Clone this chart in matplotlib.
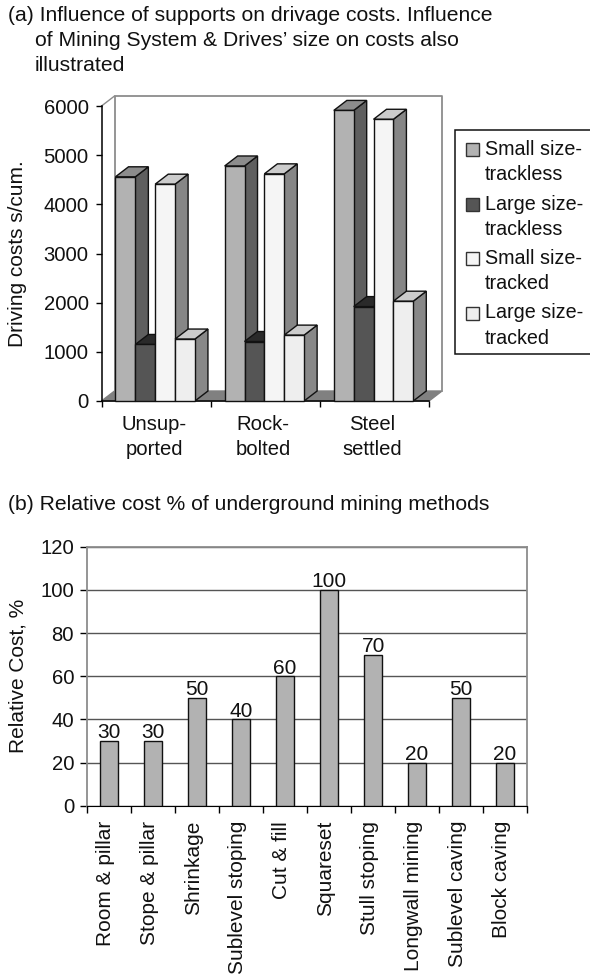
import matplotlib
matplotlib.use("Agg")
import matplotlib.pyplot as plt
from matplotlib.patches import Polygon, Rectangle
from matplotlib.transforms import ScaledTranslation

plt.rcParams['font.family'] = ['Liberation Sans', 'DejaVu Sans']

W, H = 590, 975

title_a = ["(a) Influence of supports on drivage costs. Influence",
           "of Mining System & Drives\u2019 size on costs also",
           "illustrated"]
title_b = "(b) Relative cost % of underground mining methods"

supports = ["Unsup-\nported", "Rock-\nbolted", "Steel\nsettled"]
series_names = ["Small size-\ntrackless", "Large size-\ntrackless",
                "Small size-\ntracked", "Large size-\ntracked"]
small_trackless = [4560, 4780, 5910]
large_trackless = [1150, 1210, 1920]
small_tracked = [4410, 4620, 5730]
large_tracked = [1260, 1340, 2030]
yticks_a = [0, 1000, 2000, 3000, 4000, 5000, 6000]

methods = ["Room & pillar", "Stope & pillar", "Shrinkage", "Sublevel stoping",
           "Cut & fill", "Squareset", "Stull stoping", "Longwall mining",
           "Sublevel caving", "Block caving"]
relative_cost = [30, 30, 50, 40, 60, 100, 70, 20, 50, 20]
yticks_b = [0, 20, 40, 60, 80, 100, 120]

# front, top, side
face_colors = [("#b2b2b2", "#8c8c8c", "#5f5f5f"),
               ("#555555", "#2a2a2a", "#444444"),
               ("#f5f5f5", "#cccccc", "#868686"),
               ("#eeeeee", "#cccccc", "#888888")]
title_size = 15.2
tick_size = 14.6
label_size = 15
legend_size = 14.2
text_color = "#111111"


def px_axes(fig, x0, y0, x1, y1):
    # pixel box, y measured from the top of the picture
    return fig.add_axes([x0 / W, 1 - y1 / H, (x1 - x0) / W, (y1 - y0) / H])


def fig_text(fig, x, y, s, size):
    fig.text(x / W, 1 - y / H, s, fontsize=size, va="baseline", color=text_color)


def bar_3d(ax, x, w, h, dx, dy, colors):
    front, top, side = colors
    ec = "#111111"
    ax.add_patch(Polygon([(x + w, 0), (x + w + dx, dy), (x + w + dx, h + dy), (x + w, h)],
                         fc=side, ec=ec, lw=1, clip_on=False, zorder=3))
    ax.add_patch(Polygon([(x, h), (x + dx, h + dy), (x + w + dx, h + dy), (x + w, h)],
                         fc=top, ec=ec, lw=1, clip_on=False, zorder=3))
    ax.add_patch(Rectangle((x, 0), w, h, fc=front, ec=ec, lw=1, clip_on=False, zorder=3))


def plot_supports(fig):
    ax = px_axes(fig, 101.5, 106, 429, 401)
    ax.set_xlim(0, 3)
    ax.set_ylim(0, 6000)
    ax.patch.set_visible(False)

    # depth of the 3d box, in data units
    dx = 13 / 109
    dy = 10 / 295 * 6000
    grey = "#8c8c8c"
    ax.add_patch(Polygon([(0, 0), (dx, dy), (3 + dx, dy), (3, 0)],
                         fc="#808080", ec="#808080", clip_on=False, zorder=1))
    ax.plot([dx, dx, 3 + dx, 3 + dx], [dy, 6000 + dy, 6000 + dy, dy],
            color=grey, lw=1.3, clip_on=False, zorder=1)
    ax.plot([0, dx], [6000, 6000 + dy], color=grey, lw=1, clip_on=False, zorder=1)

    bar_w = 59.5 / 327
    all_series = [small_trackless, large_trackless, small_tracked, large_tracked]
    for g in range(len(supports)):
        for s, values in enumerate(all_series):
            bar_3d(ax, g + 0.128 + s * bar_w, bar_w, values[g], dx, dy, face_colors[s])

    for name in ["top", "right"]:
        ax.spines[name].set_visible(False)
    ax.spines["left"].set_linewidth(1.1)
    ax.spines["bottom"].set_linewidth(1.1)
    ax.set_xticks([0, 1, 2, 3])
    ax.set_xticklabels([])
    ax.set_xticks([0.5, 1.5, 2.5], supports, minor=True)
    ax.set_yticks(yticks_a)
    ax.tick_params(axis="both", which="major", labelsize=tick_size, length=4.3, width=1,
                   pad=5, labelcolor=text_color)
    ax.tick_params(axis="x", which="minor", labelsize=tick_size, length=0, pad=10.3,
                   labelcolor=text_color)
    shift = ScaledTranslation(-2 / 100, 0, fig.dpi_scale_trans)
    for label in ax.get_xticklabels(minor=True):
        label.set_transform(label.get_transform() + shift)
        label.set_linespacing(1.4)
    ax.set_ylabel("Driving costs s/cum.", fontsize=label_size, labelpad=12, color=text_color)


def plot_legend(fig):
    fig.add_artist(Rectangle((455 / W, 1 - 354 / H), 140 / W, 224 / H, fc="white", ec="#111111",
                             lw=1.1, transform=fig.transFigure))
    for i, name in enumerate(series_names):
        first, second = name.split("\n")
        y = 155 + i * 54.5
        fig.add_artist(Rectangle((465.5 / W, 1 - (y + 1) / H), 13 / W, 13 / H, fc=face_colors[i][0],
                                 ec="#333333", lw=1, transform=fig.transFigure))
        fig_text(fig, 485, y, first, legend_size)
        fig_text(fig, 485, y + 25.5, second, legend_size)


def plot_methods(fig):
    ax = px_axes(fig, 87.3, 546.7, 527, 805.7)
    ax.set_xlim(0, len(methods))
    ax.set_ylim(0, 120)
    ax.set_axisbelow(True)
    ax.yaxis.grid(True, color="#555555", lw=1)
    positions = [i + 0.5 for i in range(len(methods))]
    bars = ax.bar(positions, relative_cost, width=0.41, color="#b2b2b2", edgecolor="#111111",
                  lw=1, zorder=3)
    ax.bar_label(bars, fontsize=label_size, padding=-1, color=text_color)
    for name in ["left", "top", "right"]:
        ax.spines[name].set_color("#8c8c8c")
        ax.spines[name].set_linewidth(1.3)
    ax.set_xticks(range(len(methods) + 1))
    ax.set_xticklabels([])
    ax.set_xticks(positions, methods, rotation=90, minor=True)
    ax.set_yticks(yticks_b)
    ax.tick_params(axis="both", which="major", labelsize=tick_size, length=5, width=1,
                   pad=4.5, labelcolor=text_color)
    ax.tick_params(axis="x", which="minor", labelsize=label_size, length=0, pad=11,
                   labelcolor=text_color)
    shift = ScaledTranslation(-4 / 100, 0, fig.dpi_scale_trans)
    for label in ax.get_xticklabels(minor=True):
        label.set_transform(label.get_transform() + shift)
    ax.set_ylabel("Relative Cost, %", fontsize=label_size, labelpad=9.5, color=text_color)


fig = plt.figure(figsize=(W / 100, H / 100), dpi=100)
fig_text(fig, 8, 21, title_a[0], title_size)
fig_text(fig, 35, 46, title_a[1], title_size)
fig_text(fig, 35, 71, title_a[2], title_size)
fig_text(fig, 8, 510.5, title_b, title_size)
plot_supports(fig)
plot_legend(fig)
plot_methods(fig)
fig.savefig("out.png", dpi=100)
plt.close("all")
